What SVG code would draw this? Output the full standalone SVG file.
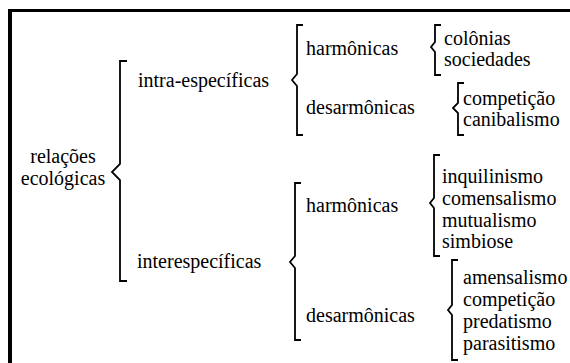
<svg xmlns="http://www.w3.org/2000/svg" width="570" height="363" viewBox="0 0 570 363">
<rect width="570" height="363" fill="#fff"/>
<g id="frame">
<rect x="8" y="9" width="562" height="3" fill="#000"/>
<rect x="8" y="9" width="4" height="354" fill="#000"/>
</g>
<g id="connectors" fill="none" stroke="#000" stroke-width="1.8">
<path d="M127,61 H120 V164 L112,172 L120,180 V281 H127"/>
<path d="M303,25 H297 V74 L292,80 L297,86 V135 H303"/>
<path d="M441,25 H435 V42 L431,47 L435,52 V75 H441"/>
<path d="M464,83 H458 V103 L453,108 L458,113 V135 H464"/>
<path d="M301,183 H295 V256 L290,262 L295,268 V340 H301"/>
<path d="M440,155 H434 V198 L430,203 L434,208 V256 H440"/>
<path d="M458,260 H452 V305 L448,310 L452,315 V360 H458"/>
</g>
<g id="root"><text font-family="Liberation Serif, serif" font-size="20" x="63" y="163" text-anchor="middle">relações</text><text font-family="Liberation Serif, serif" font-size="20" x="63" y="185" text-anchor="middle">ecológicas</text></g>
<g id="intra"><text font-family="Liberation Serif, serif" font-size="20" x="138" y="87">intra-específicas</text></g>
<g id="inter"><text font-family="Liberation Serif, serif" font-size="20" x="137" y="268">interespecíficas</text></g>
<g id="intra-harm"><text font-family="Liberation Serif, serif" font-size="20" x="306" y="55">harmônicas</text></g>
<g id="intra-desarm"><text font-family="Liberation Serif, serif" font-size="20" x="306" y="114">desarmônicas</text></g>
<g id="inter-harm"><text font-family="Liberation Serif, serif" font-size="20" x="306" y="212">harmônicas</text></g>
<g id="inter-desarm"><text font-family="Liberation Serif, serif" font-size="20" x="306" y="322">desarmônicas</text></g>
<g id="list1"><text font-family="Liberation Serif, serif" font-size="20" x="444" y="45">colônias</text><text font-family="Liberation Serif, serif" font-size="20" x="444" y="66">sociedades</text></g>
<g id="list2"><text font-family="Liberation Serif, serif" font-size="20" x="463" y="105">competição</text><text font-family="Liberation Serif, serif" font-size="20" x="463" y="126">canibalismo</text></g>
<g id="list3"><text font-family="Liberation Serif, serif" font-size="20" x="442" y="183">inquilinismo</text><text font-family="Liberation Serif, serif" font-size="20" x="442" y="205">comensalismo</text><text font-family="Liberation Serif, serif" font-size="20" x="442" y="227">mutualismo</text><text font-family="Liberation Serif, serif" font-size="20" x="442" y="248">simbiose</text></g>
<g id="list4"><text font-family="Liberation Serif, serif" font-size="20" x="463" y="284">amensalismo</text><text font-family="Liberation Serif, serif" font-size="20" x="463" y="306">competição</text><text font-family="Liberation Serif, serif" font-size="20" x="463" y="328">predatismo</text><text font-family="Liberation Serif, serif" font-size="20" x="463" y="350">parasitismo</text></g>
</svg>
